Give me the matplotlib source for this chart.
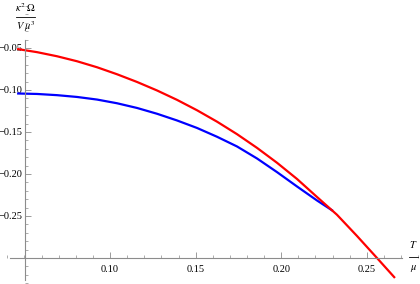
import matplotlib
matplotlib.use("Agg")
import matplotlib.pyplot as plt
from matplotlib.ticker import MultipleLocator, FixedLocator

# ── data ─────────────────────────────────────────────────────────────────────
red_t = [0.04568, 0.05736, 0.06904, 0.08072, 0.09241, 0.10409, 0.11577,
         0.12745, 0.13914, 0.15082, 0.16250, 0.17418, 0.18586, 0.19755,
         0.20923, 0.22091, 0.23259, 0.24428, 0.25596, 0.26647]
red_omega = [-0.05119, -0.05500, -0.05988, -0.06583, -0.07298, -0.08131,
             -0.09048, -0.10060, -0.11179, -0.12417, -0.13774, -0.15262,
             -0.16893, -0.18667, -0.20595, -0.22738, -0.24857, -0.27381,
             -0.30000, -0.32381]

blue_t = [0.04568, 0.05736, 0.06904, 0.08072, 0.09241, 0.10409, 0.11577,
          0.12745, 0.13914, 0.15082, 0.16250, 0.17418, 0.18586, 0.19755,
          0.20923, 0.22091, 0.23025]
blue_omega = [-0.10417, -0.10476, -0.10619, -0.10833, -0.11143, -0.11583,
              -0.12143, -0.12833, -0.13631, -0.14524, -0.15571, -0.16726,
              -0.18155, -0.19780, -0.21488, -0.23155, -0.24400]

x_ticks = [0.10, 0.15, 0.20, 0.25]
y_ticks = [-0.05, -0.10, -0.15, -0.20, -0.25]

# ── style ────────────────────────────────────────────────────────────────────
_AXIS = "#8c8c8c"
_SERIF = ["Liberation Serif", "DejaVu Serif"]
plt.rcParams["mathtext.fontset"] = "stix"

fig = plt.figure(figsize=(4.2, 2.84), dpi=100)
ax = fig.add_axes([0, 0, 1, 1])
ax.set_xlim(0.0357, 0.2811)
ax.set_ylim(-0.331, 0.0071)

ax.plot(blue_t, blue_omega, color="#0000ff", lw=1.6, solid_capstyle="butt")
ax.plot(red_t, red_omega, color="#ff0000", lw=1.6, solid_capstyle="butt")

# Mathematica-like crossing axes
for side in ("top", "right"):
    ax.spines[side].set_visible(False)
ax.spines["left"].set_position(("data", 0.0505))
ax.spines["bottom"].set_position(("data", -0.30))
ax.spines["left"].set_bounds(-0.3262, -0.0405)
ax.spines["bottom"].set_bounds(0.0416, 0.2706)
for side in ("left", "bottom"):
    ax.spines[side].set_color(_AXIS)
    ax.spines[side].set_linewidth(0.8)

ax.xaxis.set_major_locator(FixedLocator(x_ticks))
ax.yaxis.set_major_locator(FixedLocator(y_ticks))
ax.xaxis.set_minor_locator(MultipleLocator(0.01))
ax.yaxis.set_minor_locator(MultipleLocator(0.01))
ax.set_xticklabels([f"{v:.2f}" for v in x_ticks], family=_SERIF, fontsize=7.5)
ax.set_yticklabels([f"\u2212{abs(v):.2f}" for v in y_ticks], family=_SERIF,
                   fontsize=7.5)
ax.tick_params(which="major", direction="in", length=4, width=0.6,
               color=_AXIS, pad=2)
ax.tick_params(which="minor", direction="in", length=2, width=0.5,
               color=_AXIS)
ax.tick_params(axis="x", which="major", pad=5)
ax.set_facecolor("white")

# axis labels as stacked fractions (pixel placement, figure coords)
W, H = 420.0, 284.0


def frac(cx, cy_bar, top, bottom, half_w, gap=9.0, size=7.5):
    fig.text(cx / W, 1 - (cy_bar - gap) / H, top, ha="center", va="center",
             fontsize=size)
    fig.text(cx / W, 1 - (cy_bar + gap) / H, bottom, ha="center",
             va="center", fontsize=size)
    fig.add_artist(plt.Line2D([(cx - half_w) / W, (cx + half_w) / W],
                              [1 - cy_bar / H, 1 - cy_bar / H],
                              color="black", lw=0.6))


frac(25.5, 17, r"$\kappa^2\;\Omega$", r"$V\;\mu^3$", 9.5, gap=9.5)
frac(413.5, 257, r"$T$", r"$\mu$", 4.5, gap=12.0)

fig.savefig("out.png", dpi=100)
